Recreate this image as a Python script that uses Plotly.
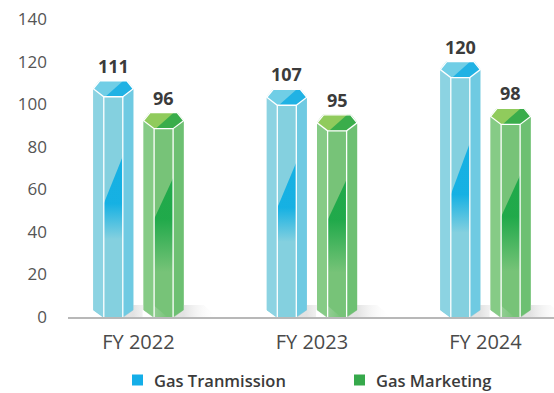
import plotly.graph_objects as go

# ---- data ----
categories = ["FY 2022", "FY 2023", "FY 2024"]
gas_transmission = [111, 107, 120]
gas_marketing = [96, 95, 98]
y_ticks = [0, 20, 40, 60, 80, 100, 120, 140]

# ---- canvas / axes geometry ----
WIDTH, HEIGHT = 554, 393
M_L, M_R, M_T, M_B = 68, 0, 19, 76
X_RANGE = [-0.406, 2.395]
Y_RANGE = [0, 140]
PLOT_W = WIDTH - M_L - M_R
PLOT_H = HEIGHT - M_T - M_B
PX_X = (X_RANGE[1] - X_RANGE[0]) / PLOT_W   # x units per pixel
PX_Y = (Y_RANGE[1] - Y_RANGE[0]) / PLOT_H   # y units per pixel

# prism shape, in pixels
HALF_W = 20      # half of the full prism width
INNER_W = 9.5    # half width of the front face
TOP_W = 13.5     # half width of the back edge of the top hexagon
SIDE_DROP = 8    # top hexagon: side vertices below the back edge
FRONT_DROP = 16  # top hexagon: front edge below the back edge
CHAMFER = 7      # bottom bevel of the side faces
BAR_W = 2 * HALF_W * PX_X
GROUP_OFFSET = 0.145

series = [
    dict(name="Gas Tranmission", values=gas_transmission, offset=-GROUP_OFFSET,
         legend="#14aee8", face_c="#84d0df", face_l="#8cd3e2", face_r="#6fcae2",
         streak="16,175,227", fade=0.33, hex_light="#70cee6", hex_dark="#20b2e4"),
    dict(name="Gas Marketing", values=gas_marketing, offset=GROUP_OFFSET,
         legend="#36a94b", face_c="#77c378", face_l="#86cb86", face_r="#6dc072",
         streak="28,168,72", fade=0.22, hex_light="#90cb5c", hex_dark="#3aad4b"),
]

fig = go.Figure()


def poly(xs, ys, fill, gradient=None):
    kw = dict(x=list(xs) + [xs[0]], y=list(ys) + [ys[0]], mode="lines",
              fill="toself", fillcolor=fill, hoverinfo="skip", showlegend=False,
              line=dict(color="rgba(0,0,0,0)", width=0))
    if gradient:
        kw["fillgradient"] = gradient
    fig.add_trace(go.Scatter(**kw))


def seg(xs, ys, color="white", width=1.3):
    fig.add_trace(go.Scatter(x=xs, y=ys, mode="lines", hoverinfo="skip",
                             showlegend=False, line=dict(color=color, width=width)))


# prism bodies as bars (front face colour), one trace per series
for s in series:
    fig.add_trace(go.Bar(
        x=list(range(len(categories))), y=s["values"], width=BAR_W,
        offset=s["offset"] - BAR_W / 2, marker=dict(color=s["face_c"], line_width=0),
        name=s["name"], showlegend=False,
        hovertemplate="%{y}<extra>" + s["name"] + "</extra>"))

# decoration of every bar: bevels, shadow, side faces, streak, top hexagon, edges
for s in series:
    for i, v in enumerate(s["values"]):
        c = i + s["offset"]
        X = lambda p: c + p * PX_X
        Yt = lambda p: v - p * PX_Y   # p pixels below the top
        Yb = lambda p: p * PX_Y       # p pixels above the baseline

        # white masks that bevel the rectangle corners
        for sgn in (-1, 1):
            poly([X(sgn * (HALF_W + 1)), X(sgn * TOP_W), X(sgn * (HALF_W + 1))],
                 [Yt(-1), Yt(-1), Yt(SIDE_DROP + 0.5)], "white")
            poly([X(sgn * (HALF_W + 1)), X(sgn * INNER_W), X(sgn * (HALF_W + 1))],
                 [Yb(-1), Yb(-1), Yb(CHAMFER + 0.5)], "white")

        # soft floor shadow to the right
        poly([X(INNER_W), X(HALF_W + 34), X(HALF_W + 20), X(INNER_W)],
             [Yb(0), Yb(0), Yb(12), Yb(12)], "rgba(220,220,220,0.6)",
             gradient=dict(type="horizontal", start=X(HALF_W), stop=X(HALF_W + 34),
                           colorscale=[[0, "rgba(208,208,208,0.6)"], [1, "rgba(255,255,255,0)"]]))

        # side faces
        poly([X(-HALF_W), X(-INNER_W), X(-INNER_W), X(-HALF_W)],
             [Yt(SIDE_DROP), Yt(FRONT_DROP), Yb(0), Yb(CHAMFER)], s["face_l"])
        poly([X(HALF_W), X(INNER_W), X(INNER_W), X(HALF_W)],
             [Yt(SIDE_DROP), Yt(FRONT_DROP), Yb(0), Yb(CHAMFER)], s["face_r"])

        # diagonal glossy streak on the front face, fading downwards
        d_right, d_left, low = 0.68 * v, 0.48 * v, s["fade"] * v
        poly([X(-INNER_W), X(INNER_W), X(INNER_W), X(-INNER_W)],
             [d_left, d_right, low, low], "rgba(0,0,0,0)",
             gradient=dict(type="vertical", start=low, stop=d_left,
                           colorscale=[[0, "rgba(%s,0)" % s["streak"]],
                                       [1, "rgba(%s,0.95)" % s["streak"]]]))

        # top hexagon with its darker facet
        hx = [-TOP_W, TOP_W, HALF_W, INNER_W, -INNER_W, -HALF_W]
        hy = [0, 0, SIDE_DROP, FRONT_DROP, FRONT_DROP, SIDE_DROP]
        poly([X(p) for p in hx], [Yt(p) for p in hy], s["hex_light"])
        poly([X(10), X(TOP_W), X(HALF_W), X(INNER_W + 1), X(-8)],
             [Yt(0), Yt(0), Yt(SIDE_DROP), Yt(FRONT_DROP), Yt(FRONT_DROP)], s["hex_dark"])

        # white edges
        seg([X(p) for p in hx] + [X(hx[0])], [Yt(p) for p in hy] + [Yt(hy[0])])
        seg([X(-INNER_W), X(-INNER_W)], [Yt(FRONT_DROP), Yb(0)])
        seg([X(INNER_W), X(INNER_W)], [Yt(FRONT_DROP), Yb(0)])

        # value label
        fig.add_annotation(x=c, y=v, text="<b>%d</b>" % v, showarrow=False,
                           yanchor="bottom", yshift=1,
                           font=dict(family="Open Sans", size=18, color="#3b3b3b"))

# legend drawn in the bottom margin: coloured squares plus captions
LEGEND_Y_PX = 380
legend_items = [(series[0], 132), (series[1], 354)]
for s, left_px in legend_items:
    x0 = (left_px - M_L) / PLOT_W
    y_mid = (HEIGHT - M_B - LEGEND_Y_PX) / PLOT_H
    half = 5.5 / PLOT_H
    fig.add_shape(type="rect", xref="paper", yref="paper",
                  x0=x0, x1=x0 + 11 / PLOT_W, y0=y_mid - half, y1=y_mid + half,
                  fillcolor=s["legend"], line_width=0)
    fig.add_annotation(xref="paper", yref="paper", x=x0 + 20 / PLOT_W, y=y_mid,
                       xanchor="left", yanchor="middle", showarrow=False,
                       text=s["name"],
                       font=dict(family="Open Sans", size=16.5, color="#3b3b3b", weight=600))

fig.update_layout(
    width=WIDTH, height=HEIGHT,
    margin=dict(l=M_L, r=M_R, t=M_T, b=M_B),
    paper_bgcolor="white", plot_bgcolor="white",
    barmode="overlay", showlegend=False,
    font=dict(family="Open Sans", color="#4a4a4a"),
    xaxis=dict(range=X_RANGE, tickvals=list(range(len(categories))), ticktext=categories,
               showgrid=False, zeroline=False, showline=True, linecolor="#b8b8b8",
               linewidth=1.5, ticks="", ticklabelstandoff=6,
               tickfont=dict(size=20, color="#4a4a4a"), fixedrange=True),
    yaxis=dict(range=Y_RANGE, tickvals=y_ticks, showgrid=False, zeroline=False,
               showline=False, ticks="", ticklabelstandoff=20,
               tickfont=dict(size=17, color="#555555"), fixedrange=True),
)

fig.write_html("out.html")
